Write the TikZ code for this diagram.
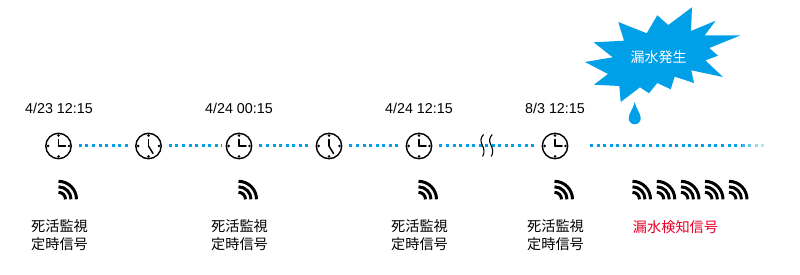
\documentclass[tikz,border=0pt]{standalone}
\usepackage{fontspec}
\setmainfont{Liberation Sans}
\newfontfamily\jpfont{Noto Sans CJK JP}
\definecolor{waterblue}{HTML}{00A0E9}
\definecolor{alertred}{HTML}{E60027}
\tikzset{
  clockface/.style={circle,draw=black,line width=1.4pt,minimum size=25.4pt,inner sep=0pt,fill=white},
  dotline/.style={draw=waterblue,line width=3pt,dash pattern=on 3pt off 3.55pt},
  stamp/.style={font=\fontsize{14.3pt}{16pt}\selectfont,text=black,inner sep=0pt},
  caption/.style={font=\jpfont\fontsize{14.2pt}{18pt}\selectfont,text=black,align=center,inner sep=0pt},
  hand/.style={line width=1.5pt,line cap=round},
  pics/signal/.style={code={
    \foreach \r in {7,12.5,18}
      \draw[line width=3pt] (0,-\r) arc[start angle=90,end angle=0,radius=\r pt];
  }},
}
% hour hand is fixed at twelve; #3 is the direction of the minute hand
\newcommand{\clockat}[3]{%
  \node[clockface] (#1) at (#2) {};
  \foreach \a in {0,90,180,270}
    \fill (#1.center) ++(\a:10.4pt) circle[radius=1.4pt];
  \draw[hand] (#1.center) -- ++(0,-6.5);
  \draw[hand] (#1.center) -- ++(#3);
}
\begin{document}
\begin{tikzpicture}[x=1pt,y=-1pt]
\useasboundingbox (0,0) rectangle (800,275);

% clocks along the time line
\clockat{c1}{58.5,146}{7,0}
\clockat{c2}{148.5,146}{4.5,7.5}
\clockat{c3}{239,146}{7,0}
\clockat{c4}{329,146}{4.5,7.5}
\clockat{c5}{419,146}{7,0}
\clockat{c6}{555,146}{7,0}

% dotted time line
\draw[dotline] ([xshift=7pt]c1.east) -- ([xshift=-4pt]c2.west);
\draw[dotline] ([xshift=7pt]c2.east) -- ([xshift=-4pt]c3.west);
\draw[dotline] ([xshift=7pt]c3.east) -- ([xshift=-4pt]c4.west);
\draw[dotline] ([xshift=7pt]c4.east) -- ([xshift=-4pt]c5.west);
\draw[dotline] ([xshift=7pt]c5.east) -- ([xshift=-4pt]c6.west);
\coordinate (tailstart) at (590,146);
\coordinate (tailfade) at (741,146);
\draw[dotline] (tailstart) -- (tailfade);
\foreach \i/\t in {0/78,1/60,2/42,3/26}
  \fill[waterblue!\t] ([xshift=\i*6.55pt]tailfade) ++(0.7,-1.5) rectangle ++(3,3);

% break mark
\foreach \dx in {0,8.7}
  \draw[line width=1.1pt,xshift=\dx pt] (483.6,134.5) .. controls (480.5,137.5) and (480.3,141) .. (482,144.5)
     .. controls (484,148.5) and (485,152.5) .. (482.6,156.5);

% date stamps
\node[stamp] (d1) at (59,108) {4/23 12:15};
\node[stamp] (d2) at (239,108) {4/24 00:15};
\node[stamp] (d3) at (419,108) {4/24 12:15};
\node[stamp] (d4) at (555,108) {8/3 12:15};

% radio signal icons; the origin is the lower left corner
\foreach \x in {58.5,238.5,418.5,554.5,632.5,656.8,681,705,729}
  \pic at (\x,199.3) {signal};

% captions
\node[caption] (t1) at (59.5,235.5) {死活監視\\定時信号};
\node[caption] (t2) at (239.5,235.5) {死活監視\\定時信号};
\node[caption] (t3) at (419.5,235.5) {死活監視\\定時信号};
\node[caption] (t4) at (555.5,235.5) {死活監視\\定時信号};
\node[caption,text=alertred] (t5) at (675.5,226.7) {漏水検知信号};

% burst and falling drop
\fill[waterblue] (618.3,22) -- (646.7,33.3) -- (657.3,15.3) -- (668.3,25) -- (692,7.3)
  -- (691,31) -- (715.7,20.7) -- (704.7,35.3) -- (740.7,35.3) -- (709.3,48) -- (718,55.7)
  -- (705.3,60.3) -- (723,77) -- (691.3,70.3) -- (694,83) -- (674.7,76.7) -- (670.7,89.3)
  -- (657.3,83) -- (649,93.3) -- (640,87.3) -- (620.7,102) -- (619.3,86) -- (594,84.7)
  -- (608,74) -- (585,62) -- (612.7,57.3) -- (593.7,42.3) -- (624,40.7) -- cycle;
\node[font=\jpfont\fontsize{14pt}{16pt}\selectfont,text=white,inner sep=0pt] (burst) at (658.5,57) {漏水発生};
\fill[waterblue] (634.7,102) .. controls (636,109) and (640.7,113) .. (640.7,118.3)
  arc[start angle=0,end angle=-180,radius=6pt] .. controls (628.7,113) and (633.4,109) .. (634.7,102) -- cycle;
\end{tikzpicture}
\end{document}
